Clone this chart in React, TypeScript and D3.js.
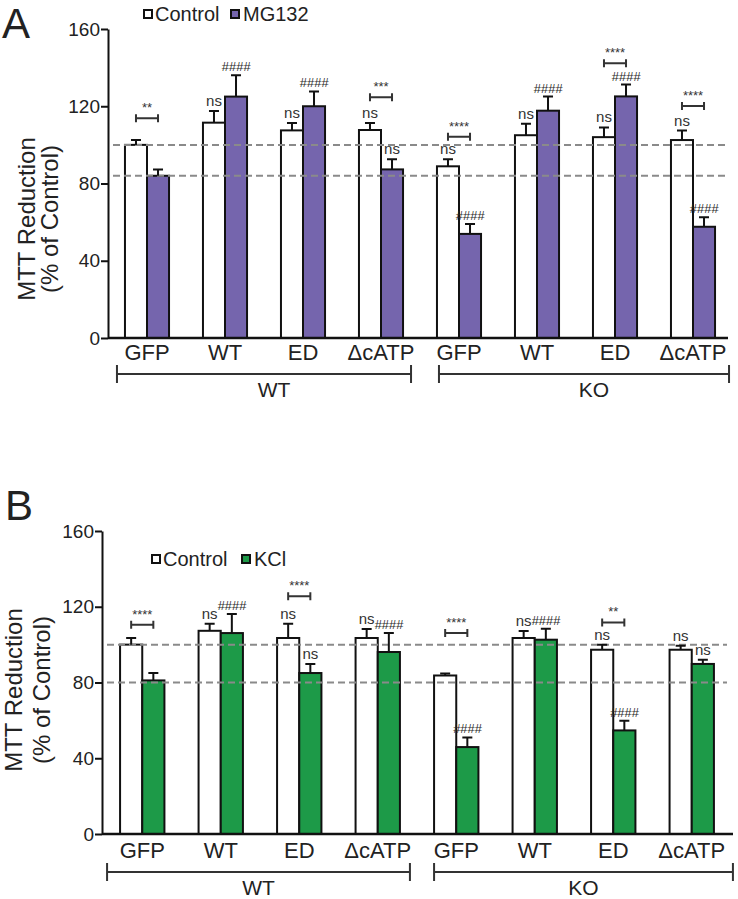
import React, { useEffect, useRef } from 'react';
import * as d3 from 'd3';

const categories = ['GFP', 'WT', 'ED', 'ΔcATP', 'GFP', 'WT', 'ED', 'ΔcATP'];
const groupLabels = ['WT', 'KO'];
const groupSpans = [[0, 3], [4, 7]];
const yTicks = [0, 40, 80, 120, 160];

// panel A: Control vs MG132
const controlA = [100, 111.5, 107.5, 107.7, 88.9, 105, 104, 102.5];
const controlAErr = [2.5, 6, 3.8, 3.6, 3.6, 6, 5, 4.9];
const mg132 = [84, 125, 120, 87.3, 53.9, 117.7, 125.1, 57.6];
const mg132Err = [3.3, 11, 7.7, 5.2, 5.1, 7.3, 6.1, 4.9];
const controlALabels = ['', 'ns', 'ns', 'ns', 'ns', 'ns', 'ns', 'ns'];
const mg132Labels = ['', '####', '####', 'ns', '####', '####', '####', '####'];
const sigA = ['**', '', '', '***', '****', '', '****', '****'];
const sigALevel = [113.8, 0, 0, 124.6, 104.2, 0, 142.3, 120.1];
const refLinesA = [100, 84];

// panel B: Control vs KCl
const controlB = [100, 107.3, 103.5, 103.5, 83.7, 103.5, 97.3, 97.3];
const controlBErr = [3.5, 3.7, 7.5, 4.7, 1.1, 3.7, 2.7, 2.1];
const kcl = [81.1, 106.1, 85, 96.1, 45.9, 102.6, 54.7, 89.8];
const kclErr = [3.9, 10.1, 4.8, 10, 5.1, 5.8, 5.1, 2.2];
const controlBLabels = ['', 'ns', 'ns', 'ns', '', 'ns', 'ns', 'ns'];
const kclLabels = ['', '####', 'ns', '####', '####', '####', '####', 'ns'];
const sigB = ['****', '', '****', '', '****', '', '**', ''];
const sigBLevel = [110.5, 0, 125.5, 0, 106.1, 0, 111.7, 0];
const refLinesB = [100, 80];

const FONT = '"Liberation Sans", Arial, Helvetica, sans-serif';

const drawPanel = (svg: any, cfg: any) => {
  const g = svg.append('g');

  const y = d3.scaleLinear().domain([0, 160]).range([cfg.yBottom, cfg.yTop]);
  const x = d3.scaleBand<number>()
    .domain(d3.range(categories.length))
    .range([cfg.xStart, cfg.xEnd])
    .paddingInner(0.435)
    .paddingOuter(0.2175);
  const sub = d3.scaleBand<string>().domain(['control', 'treat']).range([0, x.bandwidth()]);
  const bw = sub.bandwidth();

  const series = [
    { key: 'control', vals: cfg.control, errs: cfg.controlErr, labels: cfg.controlLabels, fill: '#ffffff' },
    { key: 'treat', vals: cfg.treat, errs: cfg.treatErr, labels: cfg.treatLabels, fill: cfg.color },
  ];

  // bars
  series.forEach(s => {
    g.append('g').selectAll('rect')
      .data(s.vals)
      .enter().append('rect')
      .attr('x', (_: any, i: number) => x(i)! + sub(s.key)!)
      .attr('y', (d: number) => y(d))
      .attr('width', bw)
      .attr('height', (d: number) => y(0) - y(d))
      .attr('fill', s.fill)
      .attr('stroke', '#111')
      .attr('stroke-width', 2);
  });

  // dashed reference lines
  g.append('g').selectAll('line')
    .data(cfg.refLines)
    .enter().append('line')
    .attr('x1', cfg.axisX + 5)
    .attr('x2', cfg.xEnd - 4)
    .attr('y1', (d: number) => y(d))
    .attr('y2', (d: number) => y(d))
    .attr('stroke', '#8a8a8a')
    .attr('stroke-width', 2)
    .attr('stroke-dasharray', '7 4');

  // error bars + labels
  series.forEach(s => {
    s.vals.forEach((v: number, i: number) => {
      const cx = x(i)! + sub(s.key)! + bw / 2;
      const top = y(v + s.errs[i]);
      g.append('path')
        .attr('d', `M${cx},${y(v)}V${top}M${cx - 5},${top}H${cx + 5}`)
        .attr('stroke', '#111')
        .attr('stroke-width', 2)
        .attr('fill', 'none');
      const lab = s.labels[i];
      if (lab) {
        const hash = lab.startsWith('#');
        g.append('text')
          .attr('x', cx)
          .attr('y', top - (hash ? 4 : 5))
          .attr('text-anchor', 'middle')
          .attr('font-family', FONT)
          .attr('font-size', hash ? 13 : 15)
          .attr('font-style', hash ? 'italic' : 'normal')
          .attr('fill', hash ? '#2a2a2a' : '#333')
          .text(lab);
      }
    });
  });

  // significance brackets
  cfg.sig.forEach((s: string, i: number) => {
    if (!s) return;
    const yy = y(cfg.sigLevel[i]);
    const x0 = x(i)! + bw / 2;
    const x1 = x(i)! + bw * 1.5;
    g.append('path')
      .attr('d', `M${x0},${yy - 4}V${yy + 4}M${x0},${yy}H${x1}M${x1},${yy - 4}V${yy + 4}`)
      .attr('stroke', '#333')
      .attr('stroke-width', 2)
      .attr('fill', 'none');
    g.append('text')
      .attr('x', (x0 + x1) / 2)
      .attr('y', yy - 6)
      .attr('text-anchor', 'middle')
      .attr('font-family', FONT)
      .attr('font-size', 13)
      .attr('fill', '#333')
      .text(s);
  });

  // y axis
  const ax = g.append('g')
    .attr('transform', `translate(${cfg.axisX},0)`)
    .call(d3.axisLeft(y).tickValues(yTicks).tickSize(7).tickSizeOuter(0).tickPadding(1));
  ax.select('.domain').attr('stroke', '#111').attr('stroke-width', 2);
  ax.selectAll('.tick line').attr('stroke', '#111').attr('stroke-width', 2);
  ax.selectAll('.tick text')
    .attr('font-family', FONT)
    .attr('font-size', 19)
    .attr('fill', '#222');

  // x axis baseline
  g.append('line')
    .attr('x1', cfg.axisX)
    .attr('x2', cfg.lineEnd)
    .attr('y1', y(0))
    .attr('y2', y(0))
    .attr('stroke', '#111')
    .attr('stroke-width', 2.5);

  // category labels
  g.append('g').selectAll('text')
    .data(categories)
    .enter().append('text')
    .attr('x', (_: any, i: number) => x(i)! + x.bandwidth() / 2)
    .attr('y', cfg.catY)
    .attr('text-anchor', 'middle')
    .attr('font-family', FONT)
    .attr('font-size', 22)
    .attr('fill', '#222')
    .text((d: string) => d);

  // group brackets
  groupSpans.forEach((span, k) => {
    const pad = cfg.groupPads[k];
    const gx0 = x(span[0])! + pad[0];
    const gx1 = x(span[1])! + x.bandwidth() + pad[1];
    const gy = cfg.groupY;
    g.append('path')
      .attr('d', `M${gx0},${gy - 9}V${gy + 9}M${gx0},${gy}H${gx1}M${gx1},${gy - 9}V${gy + 9}`)
      .attr('stroke', '#333')
      .attr('stroke-width', 2)
      .attr('fill', 'none');
    g.append('text')
      .attr('x', (gx0 + gx1) / 2 + cfg.groupLabelShift)
      .attr('y', cfg.groupLabelY)
      .attr('text-anchor', 'middle')
      .attr('font-family', FONT)
      .attr('font-size', 21)
      .attr('fill', '#222')
      .text(groupLabels[k]);
  });

  // y axis title
  const tcY = cfg.titleY;
  [['MTT Reduction', cfg.title1X], ['(% of Control)', cfg.title2X]].forEach(([t, tx]) => {
    g.append('text')
      .attr('transform', `translate(${tx},${tcY}) rotate(-90)`)
      .attr('text-anchor', 'middle')
      .attr('font-family', FONT)
      .attr('font-size', 24)
      .attr('fill', '#222')
      .text(t);
  });

  // legend
  const lg = g.append('g').attr('font-family', FONT).attr('font-size', 20).attr('fill', '#222');
  lg.append('rect')
    .attr('x', cfg.legX).attr('y', cfg.legY - 11).attr('width', 8).attr('height', 8)
    .attr('fill', '#fff').attr('stroke', '#111').attr('stroke-width', 2);
  lg.append('text').attr('x', cfg.legX + 11).attr('y', cfg.legY).text('Control');
  lg.append('rect')
    .attr('x', cfg.leg2X).attr('y', cfg.legY - 11).attr('width', 8).attr('height', 8)
    .attr('fill', cfg.color).attr('stroke', '#111').attr('stroke-width', 2);
  lg.append('text').attr('x', cfg.leg2X + 12).attr('y', cfg.legY).text(cfg.treatName);

  // panel letter
  g.append('text')
    .attr('x', cfg.letterX)
    .attr('y', cfg.letterY)
    .attr('font-family', FONT)
    .attr('font-size', 42)
    .attr('fill', '#222')
    .text(cfg.letter);
};

const App = () => {
  const ref = useRef<SVGSVGElement | null>(null);

  useEffect(() => {
    const svg = d3.select(ref.current);
    svg.selectAll('*').remove();

    drawPanel(svg, {
      letter: 'A', letterX: 2, letterY: 38,
      yBottom: 338, yTop: 29, xStart: 108, xEnd: 732, axisX: 108, lineEnd: 728,
      control: controlA, controlErr: controlAErr, controlLabels: controlALabels,
      treat: mg132, treatErr: mg132Err, treatLabels: mg132Labels,
      treatName: 'MG132', color: '#7565ad',
      sig: sigA, sigLevel: sigALevel, refLines: refLinesA,
      catY: 360, groupY: 374, groupLabelY: 397, groupLabelShift: 10,
      groupPads: [[-8, 8], [2, 14]],
      titleY: 219, title1X: 35, title2X: 58,
      legX: 144, legY: 21, leg2X: 231,
    });

    drawPanel(svg, {
      letter: 'B', letterX: 5, letterY: 520,
      yBottom: 834, yTop: 531, xStart: 103, xEnd: 731, axisX: 102, lineEnd: 733,
      control: controlB, controlErr: controlBErr, controlLabels: controlBLabels,
      treat: kcl, treatErr: kclErr, treatLabels: kclLabels,
      treatName: 'KCl', color: '#1d9a48',
      sig: sigB, sigLevel: sigBLevel, refLines: refLinesB,
      catY: 858, groupY: 872, groupLabelY: 895, groupLabelShift: 0,
      groupPads: [[-13, 10], [0, 19]],
      titleY: 690, title1X: 22, title2X: 50,
      legX: 152, legY: 566, leg2X: 242,
    });
  }, []);

  return (
    <svg
      ref={ref}
      width={738}
      height={899}
      style={{ position: 'absolute', left: 0, top: 0, background: '#fff' }}
    />
  );
};

export default App;
